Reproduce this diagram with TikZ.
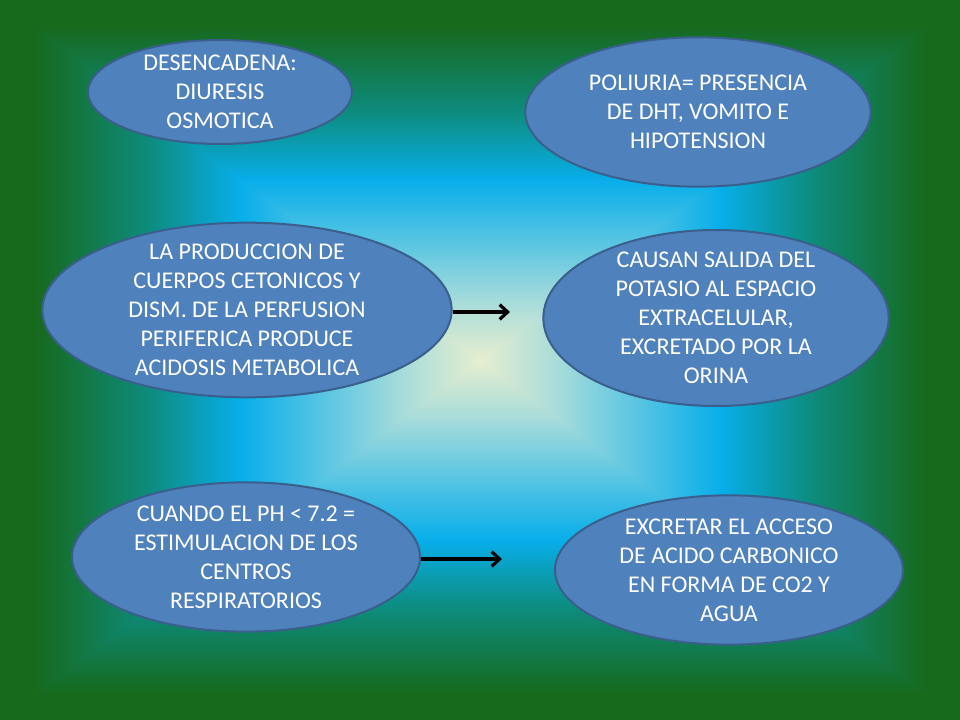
\documentclass[tikz,border=0pt]{standalone}
\usepackage{fontspec}
\setmainfont{Carlito}
\usetikzlibrary{shapes.geometric,arrows.meta}
\definecolor{cG}{HTML}{17691C}
\definecolor{cT}{HTML}{0E8A78}
\definecolor{cC}{HTML}{08AEEA}
\definecolor{cL}{HTML}{5CC6E2}
\definecolor{cM}{HTML}{A8DCDA}
\definecolor{cW}{HTML}{E6EECF}
\definecolor{nodefill}{HTML}{4F81BD}
\definecolor{nodeline}{HTML}{3A5F8C}
% pgf maps the path's bounding box onto 25bp..75bp of a shading
\pgfdeclarehorizontalshading{bgL}{100bp}{color(0bp)=(cG); color(28.5bp)=(cG); color(40bp)=(cT); color(50bp)=(cC); color(59bp)=(cL); color(67bp)=(cM); color(75bp)=(cW); color(100bp)=(cW)}
\pgfdeclarehorizontalshading{bgR}{100bp}{color(0bp)=(cW); color(25bp)=(cW); color(33bp)=(cM); color(41bp)=(cL); color(50bp)=(cC); color(60bp)=(cT); color(71.5bp)=(cG); color(100bp)=(cG)}
\pgfdeclareverticalshading{bgT}{100bp}{color(0bp)=(cW); color(25bp)=(cW); color(33bp)=(cM); color(41bp)=(cL); color(50bp)=(cC); color(60bp)=(cT); color(71.5bp)=(cG); color(100bp)=(cG)}
\pgfdeclareverticalshading{bgB}{100bp}{color(0bp)=(cG); color(28.5bp)=(cG); color(40bp)=(cT); color(50bp)=(cC); color(59bp)=(cL); color(67bp)=(cM); color(75bp)=(cW); color(100bp)=(cW)}
\tikzset{
  bubble/.style={ellipse, fill=nodefill, draw=nodeline, line width=1.5pt,
    inner xsep=0pt, inner ysep=-14pt, text=white, align=center,
    font=\fontsize{18}{21.75}\selectfont},
  linkarrow/.style={line width=2.4pt, -{Straight Barb[length=6pt,width=11pt,line width=2.4pt]}}
}
\begin{document}
\begin{tikzpicture}[x=0.75pt,y=-0.75pt]
\useasboundingbox (0,0) rectangle (960,720);
\shade[shading=bgL] (0,0) rectangle (480,720);
\shade[shading=bgR] (480,0) rectangle (960,720);
\shade[shading=bgT] (0,0) -- (960,0) -- (480,360) -- cycle;
\shade[shading=bgB] (0,720) -- (960,720) -- (480,360) -- cycle;

\node[bubble, minimum width=198pt, minimum height=78pt] (n1) at (220,92)
  {DESENCADENA:\\DIURESIS\\OSMOTICA};
\node[bubble, minimum width=259pt, minimum height=112pt] (n2) at (698,112)
  {POLIURIA= PRESENCIA\\DE DHT, VOMITO E\\HIPOTENSION};
\node[bubble, minimum width=307pt, minimum height=131pt] (n3) at (247,310)
  {LA PRODUCCION DE\\CUERPOS CETONICOS Y\\DISM. DE LA PERFUSION\\PERIFERICA PRODUCE\\ACIDOSIS METABOLICA};
\node[bubble, minimum width=259pt, minimum height=132pt] (n4) at (716,318)
  {CAUSAN SALIDA DEL\\POTASIO AL ESPACIO\\EXTRACELULAR,\\EXCRETADO POR LA\\ORINA};
\node[bubble, minimum width=261pt, minimum height=112pt] (n5) at (246,557)
  {CUANDO EL PH < 7.2 =\\ESTIMULACION DE LOS\\CENTROS\\RESPIRATORIOS};
\node[bubble, minimum width=261pt, minimum height=112pt] (n6) at (729,570)
  {EXCRETAR EL ACCESO\\DE ACIDO CARBONICO\\EN FORMA DE CO2 Y\\AGUA};

\coordinate (e1) at (510,312);
\coordinate (e2) at (502,559);
\draw[linkarrow] (n3.east |- e1) -- (e1);
\draw[linkarrow] (n5.east |- e2) -- (e2);
\end{tikzpicture}
\end{document}
